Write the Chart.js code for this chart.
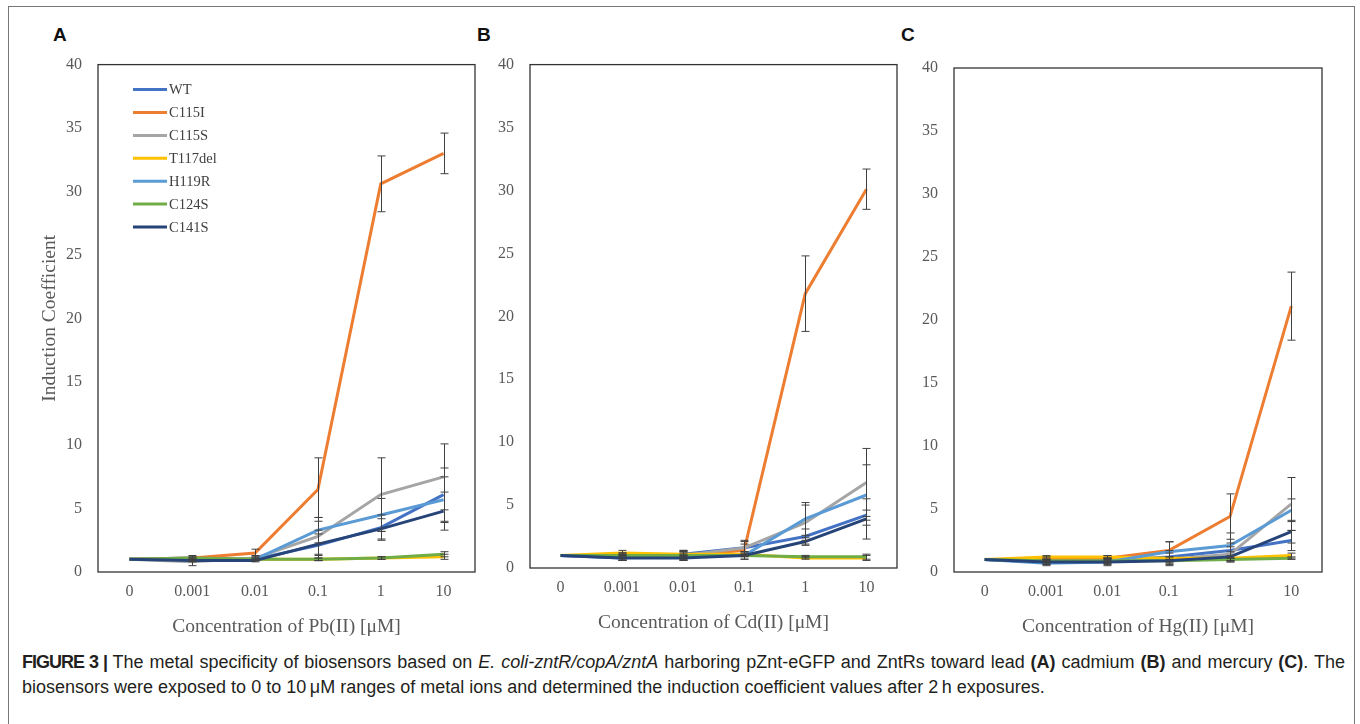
<!DOCTYPE html>
<html>
<head>
<meta charset="utf-8">
<script src="https://cdn.jsdelivr.net/npm/chart.js@4.4.1/dist/chart.umd.min.js"></script>
<style>
body { margin:0; background:#fff; width:1360px; height:724px; overflow:hidden; position:relative; font-family:"Liberation Sans", Arial, sans-serif; }
#frame { position:absolute; left:8px; top:6px; width:1347px; height:760px; border:1.5px solid #777; box-sizing:border-box; }
canvas { position:absolute; top:39px; }
.letter { position:absolute; top:25px; font:bold 19px "Liberation Sans", Arial, sans-serif; line-height:19px; color:#111; }
.cap { position:absolute; left:22px; width:1323px; font-size:18px; line-height:25px; color:#231f20; white-space:nowrap; }
#cap1 { top:650px; text-align:justify; text-align-last:justify; white-space:normal; }
#cap2 { top:675px; }
.fig { letter-spacing:-1px; }
</style>
</head>
<body>
<div id="frame"></div>
<div class="letter" style="left:53px">A</div>
<div class="letter" style="left:477px">B</div>
<div class="letter" style="left:901px">C</div>
<canvas id="chartA" width="470" height="611" style="left:20px"></canvas>
<canvas id="chartB" width="460" height="611" style="left:450px"></canvas>
<canvas id="chartC" width="460" height="611" style="left:875px"></canvas>
<div class="cap" id="cap1"><b class="fig">FIGURE 3 |</b> The metal specificity of biosensors based on <i>E. coli-zntR/copA/zntA</i> harboring pZnt-eGFP and ZntRs toward lead <b>(A)</b> cadmium <b>(B)</b> and mercury <b>(C)</b>. The</div>
<div class="cap" id="cap2">biosensors were exposed to 0 to 10&#8201;&#956;M ranges of metal ions and determined the induction coefficient values after 2&#8201;h exposures.</div>

<script>
// categories and series
var concentrations = ['0', '0.001', '0.01', '0.1', '1', '10'];
var strains = ['WT', 'C115I', 'C115S', 'T117del', 'H119R', 'C124S', 'C141S'];
var strainColors = ['#4472C4', '#ED7D31', '#A5A5A5', '#FFC000', '#5B9BD5', '#70AD47', '#264478'];

// lead (A) - one row per strain
var pbMean = [
  [1.0, 1.1, 1.0, 2.1, 3.5, 6.1],
  [1.0, 1.1, 1.5, 6.5, 30.6, 33.0],
  [1.0, 0.8, 1.1, 2.8, 6.1, 7.5],
  [1.0, 1.0, 1.0, 1.0, 1.1, 1.2],
  [1.0, 1.0, 1.0, 3.3, 4.5, 5.7],
  [1.0, 1.1, 1.0, 1.0, 1.1, 1.4],
  [1.0, 0.9, 0.9, 2.2, 3.4, 4.8]
];
var pbErr = [
  [0, 0.1, 0.1, 1.2, 1.0, 2.1],
  [0, 0.2, 0.3, 2.5, 2.2, 1.6],
  [0, 0.3, 0.2, 1.5, 2.9, 2.6],
  [0, 0, 0, 0.1, 0.1, 0.2],
  [0, 0.1, 0.1, 1.0, 1.3, 1.8],
  [0, 0, 0, 0.1, 0.1, 0.2],
  [0, 0.1, 0.1, 0.8, 0.8, 1.5]
];

// cadmium (B)
var cdMean = [
  [1.0, 0.8, 1.1, 1.6, 2.5, 4.2],
  [1.0, 1.0, 1.0, 1.4, 21.8, 30.1],
  [1.0, 0.9, 1.0, 1.6, 3.6, 6.8],
  [1.0, 1.2, 1.1, 1.1, 0.8, 0.8],
  [1.0, 0.9, 1.0, 1.0, 3.9, 5.8],
  [1.0, 1.0, 1.0, 1.0, 0.9, 0.9],
  [1.0, 0.8, 0.8, 1.0, 2.1, 3.9]
];
var cdErr = [
  [0, 0.2, 0.3, 0.5, 0.6, 0.4],
  [0, 0.2, 0.3, 0.5, 3.0, 1.6],
  [0, 0.3, 0.4, 0.6, 1.4, 2.7],
  [0, 0.2, 0.1, 0.1, 0.1, 0.2],
  [0, 0.2, 0.3, 0.3, 1.3, 2.4],
  [0, 0.1, 0.1, 0.1, 0.1, 0.2],
  [0, 0.2, 0.2, 0.3, 0.3, 1.6]
];

// mercury (C)
var hgMean = [
  [1.0, 0.8, 0.9, 1.2, 1.7, 2.5],
  [1.0, 1.0, 1.1, 1.7, 4.4, 21.1],
  [1.0, 0.8, 0.9, 1.0, 1.4, 5.4],
  [1.0, 1.2, 1.2, 1.1, 1.1, 1.3],
  [1.0, 0.7, 0.8, 1.6, 2.1, 4.9],
  [1.0, 0.9, 0.9, 0.9, 1.0, 1.1],
  [1.0, 0.8, 0.8, 0.9, 1.2, 3.2]
];
var hgErr = [
  [0, 0.2, 0.2, 0.5, 0.6, 0.8],
  [0, 0.2, 0.2, 0.7, 1.8, 2.7],
  [0, 0.2, 0.2, 0.5, 0.6, 2.1],
  [0, 0.1, 0.1, 0.1, 0.2, 0.2],
  [0, 0.2, 0.3, 0.8, 1.0, 0.9],
  [0, 0.1, 0.1, 0.1, 0.1, 0.1],
  [0, 0.1, 0.2, 0.3, 0.4, 0.9]
];

var serif = '"Liberation Serif", "Times New Roman", serif';

// vertical error bars, drawn from the scales
var errorBars = {
  id: 'errorBars',
  afterDatasetsDraw: function(chart, args, opts) {
    var ctx = chart.ctx, xs = chart.scales.x, ys = chart.scales.y;
    ctx.save();
    ctx.strokeStyle = '#404040';
    ctx.lineWidth = 1;
    chart.data.datasets.forEach(function(ds, i) {
      ds.data.forEach(function(v, j) {
        var e = opts.errors[i][j];
        if (!e) return;
        var px = Math.round(xs.getPixelForValue(j)) + 0.5;
        var top = ys.getPixelForValue(v + e), bot = ys.getPixelForValue(v - e);
        ctx.beginPath();
        ctx.moveTo(px, top); ctx.lineTo(px, bot);
        ctx.moveTo(px - 4, top); ctx.lineTo(px + 4, top);
        ctx.moveTo(px - 4, bot); ctx.lineTo(px + 4, bot);
        ctx.stroke();
      });
    });
    ctx.restore();
  }
};

// box round the plot area
var plotFrame = {
  id: 'plotFrame',
  afterDraw: function(chart) {
    var a = chart.chartArea, ctx = chart.ctx;
    ctx.save();
    ctx.strokeStyle = '#333';
    ctx.lineWidth = 1.3;
    ctx.strokeRect(a.left, a.top, a.right - a.left, a.bottom - a.top);
    ctx.restore();
  }
};

// legend inside the plot, only on panel A
var insideLegend = {
  id: 'insideLegend',
  afterDraw: function(chart, args, opts) {
    if (!opts.show) return;
    var a = chart.chartArea, ctx = chart.ctx;
    ctx.save();
    ctx.font = '14.5px ' + serif;
    ctx.textBaseline = 'middle';
    chart.data.datasets.forEach(function(ds, i) {
      var y = a.top + 25 + i * 22.9;
      ctx.strokeStyle = ds.borderColor;
      ctx.lineWidth = 3;
      ctx.beginPath();
      ctx.moveTo(a.left + 35, y);
      ctx.lineTo(a.left + 69, y);
      ctx.stroke();
      ctx.fillStyle = '#404040';
      ctx.fillText(ds.label, a.left + 71, y + 1);
    });
    ctx.restore();
  }
};

function makePanel(id, means, errs, xTitle, opt) {
  var datasets = strains.map(function(name, i) {
    return {
      label: name,
      data: means[i],
      borderColor: strainColors[i],
      backgroundColor: strainColors[i],
      borderWidth: 3,
      pointRadius: 0,
      tension: 0,
      order: strains.length - i
    };
  });
  return new Chart(document.getElementById(id), {
    type: 'line',
    data: { labels: concentrations, datasets: datasets },
    plugins: [errorBars, plotFrame, insideLegend],
    options: {
      responsive: false,
      animation: false,
      devicePixelRatio: 1,
      layout: { padding: { left: 0, right: opt.right, top: opt.top, bottom: 0 } },
      plugins: {
        legend: { display: false },
        tooltip: { enabled: false },
        errorBars: { errors: errs },
        insideLegend: { show: opt.legend }
      },
      scales: {
        x: {
          offset: true,
          grid: { display: false, drawTicks: false },
          border: { display: false },
          ticks: { color: '#595959', font: { family: serif, size: 16 }, padding: 10, maxRotation: 0 },
          title: { display: true, text: xTitle, color: '#595959', font: { family: serif, size: 19.5 }, padding: { top: 0, bottom: opt.titlePad } },
          afterFit: function(s) { s.height = opt.xh; }
        },
        y: {
          min: 0,
          max: 40,
          grid: { display: false, drawTicks: false },
          border: { display: false },
          ticks: { stepSize: 5, color: '#595959', font: { family: serif, size: 16 }, padding: 16 },
          title: { display: opt.yTitle, text: 'Induction Coefficient', color: '#595959', font: { family: serif, size: 19.5 }, padding: { top: 18, bottom: 0 } },
          afterFit: function(s) { s.width = opt.yw; }
        }
      }
    }
  });
}

makePanel('chartA', pbMean, pbErr, 'Concentration of Pb(II) [\u03bcM]', { right: 15, top: 25, yw: 78, xh: 78, titlePad: 11, legend: true, yTitle: true });
makePanel('chartB', cdMean, cdErr, 'Concentration of Cd(II) [\u03bcM]', { right: 13, top: 25, yw: 80, xh: 82, titlePad: 15, legend: false, yTitle: false });
makePanel('chartC', hgMean, hgErr, 'Concentration of Hg(II) [\u03bcM]', { right: 13, top: 29, yw: 79, xh: 78, titlePad: 11, legend: false, yTitle: false });
</script>
</body>
</html>
